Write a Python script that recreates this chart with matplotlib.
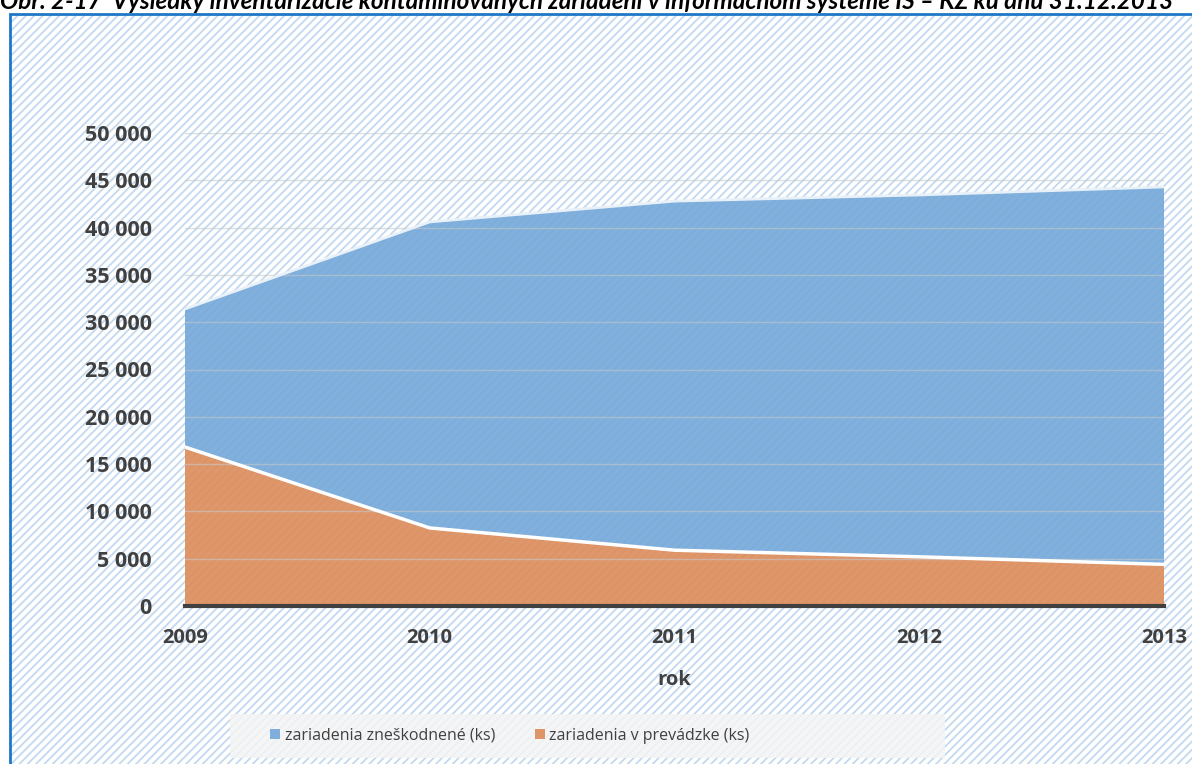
import numpy as np
import matplotlib.pyplot as plt
from matplotlib.patches import Rectangle

# --- DATA ---
years = [2009, 2010, 2011, 2012, 2013]
v_prevadzke = [16800, 8250, 5900, 5200, 4400]
zneskodnene = [14600, 32350, 36900, 38250, 39900]
y_ticks = [0, 5000, 10000, 15000, 20000, 25000, 30000, 35000, 40000, 45000, 50000]

title = "Obr. 2-17  Výsledky inventarizácie kontaminovaných zariadení v informačnom systéme IS – KZ ku dňu 31.12.2013"
label_blue = "zariadenia zneškodnené (ks)"
label_orange = "zariadenia v prevádzke (ks)"

BLUE = '#76a9da'
ORANGE = '#dd8d5c'
TEXT = '#404040'
FONT = ['Open Sans', 'DejaVu Sans']

plt.rcParams['font.family'] = FONT

fig = plt.figure(figsize=(11.92, 7.64), dpi=100)

# hatched background with blue frame
top_px = 14
plt.rcParams['hatch.linewidth'] = 1.3
bg = Rectangle((10 / 1192, -0.05), 1.2, 1 - top_px / 764 + 0.05, transform=fig.transFigure,
               facecolor='white', edgecolor='#c3d9ef', hatch='////', lw=0, zorder=-10)
fig.patches.append(bg)
frame = Rectangle((10 / 1192, -0.05), 1.2, 1 - top_px / 764 + 0.05, transform=fig.transFigure,
                  facecolor='none', edgecolor='#1f77c8', lw=2, zorder=-9)
fig.patches.append(frame)

# title, cut at the top edge
fig.text(0.0, 1 - 9 / 764, title, ha='left', va='baseline', fontsize=17.5,
         fontweight='bold', style='italic', color='black', family=['Lato', 'DejaVu Sans'])

ax = fig.add_axes([185 / 1192, 1 - 606 / 764, (1164 - 185) / 1192, (606 - 133) / 764])
ax.patch.set_alpha(0)

ax.stackplot(years, v_prevadzke, zneskodnene, colors=[ORANGE, BLUE], alpha=0.92,
             edgecolor='none', labels=[label_orange, label_blue], zorder=2)
total = np.array(v_prevadzke) + np.array(zneskodnene)
ax.plot(years, v_prevadzke, color='white', lw=2.5, zorder=3)
ax.plot(years, total, color='#e8f0f8', lw=2, zorder=3)

ax.set_xlim(2009, 2013)
ax.set_ylim(0, 50000)
ax.set_yticks(y_ticks)
ax.set_yticklabels([f"{v:,}".replace(',', ' ') for v in y_ticks])
ax.set_xticks(years)
ax.grid(axis='y', color='#c8c8c8', lw=1, zorder=1)
ax.set_axisbelow(False)
for g in ax.get_ygridlines():
    g.set_zorder(2.5)
    g.set_alpha(0.6)

for s in ['top', 'right', 'left']:
    ax.spines[s].set_visible(False)
ax.spines['bottom'].set_color('#404040')
ax.spines['bottom'].set_linewidth(3)
ax.spines['bottom'].set_zorder(4)

ax.tick_params(length=0, labelcolor=TEXT)
ax.tick_params(axis='x', pad=16, labelsize=14.5)
ax.tick_params(axis='y', pad=24, labelsize=15.5)
for lab in ax.get_xticklabels() + ax.get_yticklabels():
    lab.set_fontweight('bold')

ax.set_xlabel('rok', fontsize=14.5, fontweight='bold', color=TEXT, labelpad=16)

# legend band
fig.patches.append(Rectangle((230 / 1192, 1 - 758 / 764), (945 - 230) / 1192, 44 / 764,
                             transform=fig.transFigure, facecolor='#f4f4f4', alpha=0.85,
                             edgecolor='none', zorder=-5))
handles, labels = ax.get_legend_handles_labels()
leg = fig.legend(handles[::-1], labels[::-1], loc='center', bbox_to_anchor=(510 / 1192, 1 - 736 / 764),
                 ncol=2, frameon=False, fontsize=11.5, handlelength=0.6, handleheight=0.6,
                 handletextpad=0.3, columnspacing=2.5)
for t in leg.get_texts():
    t.set_color(TEXT)

fig.savefig('out.png', dpi=100)
